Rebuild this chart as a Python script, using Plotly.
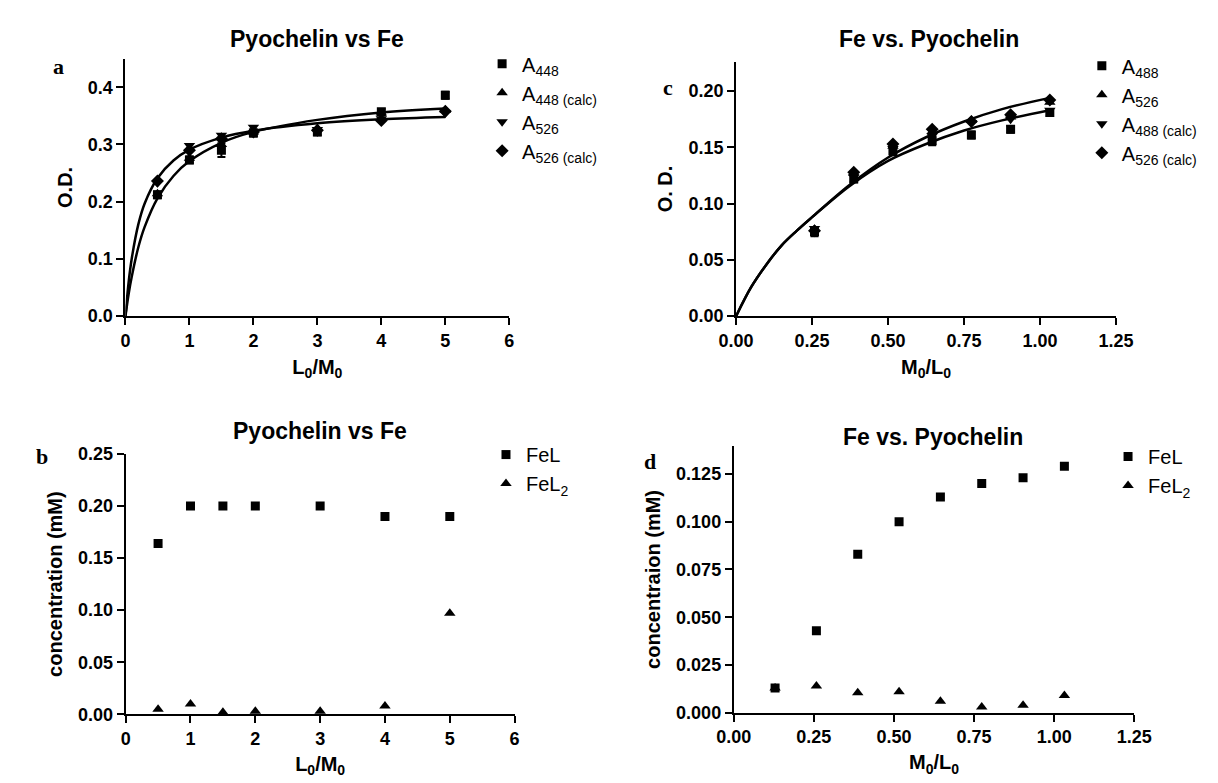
import plotly.graph_objects as go

# ---------------- data ----------------
# Panel a: Pyochelin vs Fe (O.D. vs L0/M0)
a_x = [0.5, 1, 1.5, 2, 3, 4, 5]
a_A448 = [0.212, 0.273, 0.290, 0.320, 0.322, 0.357, 0.386]
a_A448_err = [0.006, 0.006, 0.012, 0.006, 0.006, 0.005, 0.006]
a_A448_calc = [0.214, 0.276, 0.300, 0.322, 0.328, 0.355, 0.360]
a_A526 = [0.233, 0.298, 0.316, 0.330, 0.326, 0.345, 0.355]
a_A526_calc = [0.236, 0.290, 0.310, 0.322, 0.325, 0.342, 0.358]
a_fit_x = [0, 0.05, 0.1, 0.2, 0.3, 0.5, 0.75, 1, 1.5, 2, 3, 4, 5]
a_fit_lower = [0, 0.039, 0.070, 0.120, 0.156, 0.206, 0.245, 0.271, 0.303, 0.322, 0.343, 0.356, 0.363]
a_fit_upper = [0, 0.060, 0.102, 0.160, 0.197, 0.241, 0.272, 0.291, 0.312, 0.324, 0.337, 0.344, 0.348]

# Panel c: Fe vs. Pyochelin (O.D. vs M0/L0)
c_x = [0.258, 0.387, 0.516, 0.645, 0.774, 0.903, 1.032]
c_A488 = [0.075, 0.122, 0.147, 0.156, 0.161, 0.166, 0.181]
c_A488_err = [0.004, 0.003, 0.004, 0.004, 0.003, 0.003, 0.003]
c_A526 = [0.077, 0.127, 0.151, 0.164, 0.174, 0.177, 0.190]
c_A488_calc = [0.078, 0.124, 0.149, 0.160, 0.172, 0.175, 0.183]
c_A526_calc = [0.076, 0.128, 0.153, 0.166, 0.173, 0.179, 0.192]
c_fit_x = [0, 0.05, 0.1, 0.15, 0.2, 0.25, 0.375, 0.5, 0.625, 0.75, 0.875, 1.032]
c_fit_upper = [0, 0.026, 0.046, 0.063, 0.076, 0.088, 0.117, 0.141, 0.159, 0.173, 0.184, 0.194]
c_fit_lower = [0, 0.026, 0.046, 0.063, 0.076, 0.088, 0.116, 0.138, 0.153, 0.165, 0.174, 0.183]

# Panel b: Pyochelin vs Fe (concentration vs L0/M0)
b_x = [0.5, 1, 1.5, 2, 3, 4, 5]
b_FeL = [0.164, 0.200, 0.200, 0.200, 0.200, 0.190, 0.190]
b_FeL2 = [0.005, 0.010, 0.002, 0.003, 0.003, 0.008, 0.097]

# Panel d: Fe vs. Pyochelin (concentration vs M0/L0)
d_x = [0.129, 0.258, 0.387, 0.516, 0.645, 0.774, 0.903, 1.032]
d_FeL = [0.013, 0.043, 0.083, 0.100, 0.113, 0.120, 0.123, 0.129]
d_FeL2 = [0.013, 0.014, 0.0105, 0.011, 0.006, 0.003, 0.004, 0.009]

# ---------------- figure ----------------
W, H = 1218, 783
FONT = "Liberation Sans, Arial, Helvetica, sans-serif"
SERIF = "Liberation Serif, Times New Roman, serif"


def px_x(p):
    return p / W


def px_y(p):
    return 1 - p / H


fig = go.Figure()


def pts(x, y, sym, name, xa, ya, legend, err=None, size=9):
    kw = {}
    if err is not None:
        kw["error_y"] = dict(type="data", array=err, color="black", thickness=2, width=4)
    fig.add_trace(go.Scatter(
        x=x, y=y, mode="markers", name=name,
        marker=dict(symbol=sym, size=size, color="black"),
        xaxis=xa, yaxis=ya, legend=legend, **kw))


def curve(x, y, xa, ya):
    fig.add_trace(go.Scatter(
        x=x, y=y, mode="lines",
        line=dict(color="black", width=2.5, shape="spline", smoothing=1.0),
        xaxis=xa, yaxis=ya, showlegend=False, hoverinfo="skip"))


# panel a
curve(a_fit_x, a_fit_lower, "x", "y")
curve(a_fit_x, a_fit_upper, "x", "y")
pts(a_x, a_A448, "square", "A<sub>448</sub>", "x", "y", "legend", err=a_A448_err)
pts(a_x, a_A448_calc, "triangle-up", "A<sub>448 (calc)</sub>", "x", "y", "legend", size=10)
pts(a_x, a_A526, "triangle-down", "A<sub>526</sub>", "x", "y", "legend", size=10)
pts(a_x, a_A526_calc, "diamond", "A<sub>526 (calc)</sub>", "x", "y", "legend", size=10)

# panel c
curve(c_fit_x, c_fit_upper, "x2", "y2")
curve(c_fit_x, c_fit_lower, "x2", "y2")
pts(c_x, c_A488, "square", "A<sub>488</sub>", "x2", "y2", "legend2", err=c_A488_err)
pts(c_x, c_A526, "triangle-up", "A<sub>526</sub>", "x2", "y2", "legend2", size=10)
pts(c_x, c_A488_calc, "triangle-down", "A<sub>488 (calc)</sub>", "x2", "y2", "legend2", size=10)
pts(c_x, c_A526_calc, "diamond", "A<sub>526 (calc)</sub>", "x2", "y2", "legend2", size=10)

# panel b
pts(b_x, b_FeL, "square", "FeL", "x3", "y3", "legend3")
pts(b_x, b_FeL2, "triangle-up", "FeL<sub>2</sub>", "x3", "y3", "legend3", size=10)

# panel d
pts(d_x, d_FeL, "square", "FeL", "x4", "y4", "legend4")
pts(d_x, d_FeL2, "triangle-up", "FeL<sub>2</sub>", "x4", "y4", "legend4", size=10)

tickfont = dict(family=FONT, size=18, color="black", weight="bold")
titlefont = dict(family=FONT, size=20, color="black", weight="bold")


def axis(domain, rng, dtick, fmt, anchor, title, standoff):
    return dict(domain=domain, range=rng, dtick=dtick, tick0=0, tickformat=fmt,
                anchor=anchor, showline=True, linecolor="black", linewidth=2,
                ticks="outside", ticklen=7, tickwidth=2, tickcolor="black",
                showgrid=False, zeroline=False, tickfont=tickfont,
                title=dict(text=title, font=titlefont, standoff=standoff))


# domains from pixel positions
ax_a = [px_x(102.5), px_x(498)]
ay_a = [px_y(306), px_y(41.7)]
ax_c = [px_x(731.7), px_x(1123.3)]
ay_c = [px_y(306), px_y(45)]
ax_b = [px_x(102.7), px_x(503.5)]
ay_b = [px_y(714.6), px_y(447.3)]
ax_d = [px_x(729.3), px_x(1142)]
ay_d = [px_y(713), px_y(439.3)]

fig.update_layout(
    width=W, height=H,
    margin=dict(l=0, r=0, t=0, b=0),
    paper_bgcolor="white", plot_bgcolor="white",
    font=dict(family=FONT, color="black", size=16),
    xaxis=axis(ax_a, [0, 6], 1, "d", "y", "L<sub>0</sub>/M<sub>0</sub>", 10),
    yaxis=axis(ay_a, [0, 0.45], 0.1, ".1f", "x", "O.D.", 10),
    xaxis2=axis(ax_c, [0, 1.25], 0.25, ".2f", "y2", "M<sub>0</sub>/L<sub>0</sub>", 10),
    yaxis2=axis(ay_c, [0, 0.226], 0.05, ".2f", "x2", "O. D.", 10),
    xaxis3=axis(ax_b, [0, 6], 1, "d", "y3", "L<sub>0</sub>/M<sub>0</sub>", 9),
    yaxis3=axis(ay_b, [0, 0.25], 0.05, ".2f", "x3", "concentration (mM)", 10),
    xaxis4=axis(ax_d, [0, 1.25], 0.25, ".2f", "y4", "M<sub>0</sub>/L<sub>0</sub>", 9),
    yaxis4=axis(ay_d, [0, 0.1396], 0.025, ".3f", "x4", "concentraion (mM)", 10),
)

legfont = dict(family=FONT, size=20, color="black")


def leg(x, y):
    return dict(x=x, y=y, xanchor="left", yanchor="top", bgcolor="rgba(0,0,0,0)",
                font=legfont, itemwidth=30, tracegroupgap=0, borderwidth=0)


fig.update_layout(
    legend=leg(px_x(470), px_y(27)),
    legend2=leg(px_x(1088), px_y(29)),
    legend3=leg(px_x(474), px_y(428)),
    legend4=leg(px_x(1115), px_y(430)),
)


def ann(text, x, y, size, family=FONT):
    fig.add_annotation(text=text, x=px_x(x), y=px_y(y), xref="paper", yref="paper",
                       showarrow=False,
                       font=dict(family=family, size=size, color="black", weight="bold"),
                       xanchor="center", yanchor="middle")


# titles
ann("Pyochelin vs Fe", 300, 22, 23)
ann("Fe vs. Pyochelin", 930, 22, 23)
ann("Pyochelin vs Fe", 303, 424, 23)
ann("Fe vs. Pyochelin", 935, 430, 23)

# panel letters
ann("a", 33, 50, 22, SERIF)
ann("c", 662, 71, 22, SERIF)
ann("b", 17, 450, 22, SERIF)
ann("d", 643, 455, 22, SERIF)

fig.write_html("out.html")
